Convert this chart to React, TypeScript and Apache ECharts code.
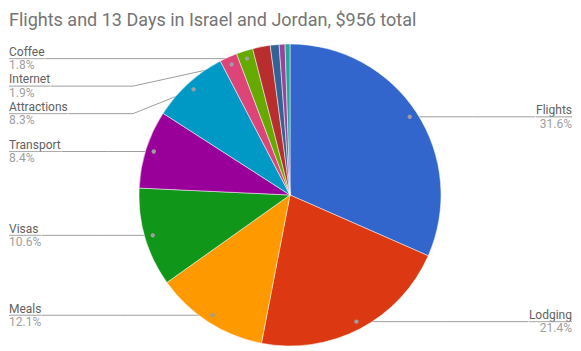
import React, { useEffect, useRef } from 'react';
import * as echarts from 'echarts';

const titleText = 'Flights and 13 Days in Israel and Jordan, $956 total';
const categories = ['Flights', 'Lodging', 'Meals', 'Visas', 'Transport', 'Attractions', 'Internet', 'Coffee', 'Souvenirs', 'Tips', 'Laundry', 'Misc'];
const costs = [302, 205, 116, 101, 80, 79, 18, 17, 18, 9, 6, 5];
const showLabel = [true, true, true, true, true, true, true, true, false, false, false, false];
const colors = ['#3366cc', '#dc3912', '#ff9900', '#109618', '#990099', '#0099c6', '#dd4477', '#66aa00', '#b82e2e', '#316395', '#994499', '#22aa99'];

const CX = 290;
const CY = 195;
const R = 151;
const DOT_R = 143;

export default function App() {
  const ref = useRef<HTMLDivElement>(null);
  useEffect(() => {
    if (!ref.current) return;
    const chart = echarts.init(ref.current, null, { renderer: 'svg' });
    const total = costs.reduce((a, b) => a + b, 0);
    let cum = 0;
    const mids = costs.map((v) => {
      const m = ((cum + v / 2) / total) * 2 * Math.PI;
      cum += v;
      return m;
    });
    const data = categories.map((name, i) => ({ name, value: costs[i] }));
    const font = 'Roboto';
    chart.setOption({
      animation: false,
      color: colors,
      title: {
        text: titleText,
        left: 9,
        top: 10,
        padding: 0,
        textStyle: { fontFamily: font, fontSize: 18, fontWeight: 'normal', color: '#757575' },
      },
      series: [
        {
          type: 'pie',
          center: [CX, CY],
          radius: R,
          startAngle: 90,
          clockwise: true,
          silent: true,
          label: { show: false },
          labelLine: { show: false },
          itemStyle: { borderColor: '#ffffff', borderWidth: 0.5 },
          data: data.map((d, i) => ({ ...d, itemStyle: { color: colors[i] } })),
        },
        {
          type: 'pie',
          center: [CX, CY],
          radius: DOT_R,
          startAngle: 90,
          clockwise: true,
          silent: true,
          percentPrecision: 1,
          avoidLabelOverlap: true,
          itemStyle: { color: 'rgba(0,0,0,0)', borderWidth: 0 },
          label: {
            show: true,
            position: 'outside',
            alignTo: 'edge',
            edgeDistance: 9,
            distanceToLabelLine: 0,
            formatter: '{n|{b}}\n{hr|}\n{p|{d}%}',
            rich: {
              n: { fontFamily: font, fontSize: 12, lineHeight: 13.5, color: '#616161' },
              hr: { width: '100%', height: 0, borderColor: '#9e9e9e', borderWidth: 0.6 },
              p: { fontFamily: font, fontSize: 12, lineHeight: 13.5, color: '#9e9e9e' },
            },
          },
          labelLine: {
            show: true,
            length: 0,
            length2: 10,
            lineStyle: { color: '#9e9e9e', width: 1 },
          },
          labelLayout: (p: any) => {
            const pts = p.labelLinePoints;
            if (!pts || pts.length < 2) return {};
            const p0 = pts[0];
            const p2 = pts[pts.length - 1];
            const left = p2[0] < p0[0];
            const ly = p2[1];
            const mid = Math.abs(ly - p0[1]) < 1.5
              ? [(p0[0] + p2[0]) / 2, ly]
              : [left ? CX - R - 6 : CX + R + 6, ly];
            return { labelLinePoints: [p0, mid, p2] };
          },
          data: data.map((d, i) => ({
            ...d,
            label: { show: showLabel[i] },
            labelLine: { show: showLabel[i] },
          })),
        },
        {
          type: 'custom',
          coordinateSystem: 'none',
          silent: true,
          z: 10,
          data: costs,
          renderItem: (params: any) => {
            const i = params.dataIndex;
            if (!showLabel[i]) return null;
            const a = mids[i];
            return {
              type: 'circle',
              shape: { cx: CX + DOT_R * Math.sin(a), cy: CY - DOT_R * Math.cos(a), r: 2.2 },
              style: { fill: '#9e9e9e' },
            };
          },
        },
      ],
    });
    return () => chart.dispose();
  }, []);
  return (
    <div
      ref={ref}
      style={{ position: 'absolute', left: 0, top: 0, width: 581, height: 351, background: '#ffffff' }}
    />
  );
}
